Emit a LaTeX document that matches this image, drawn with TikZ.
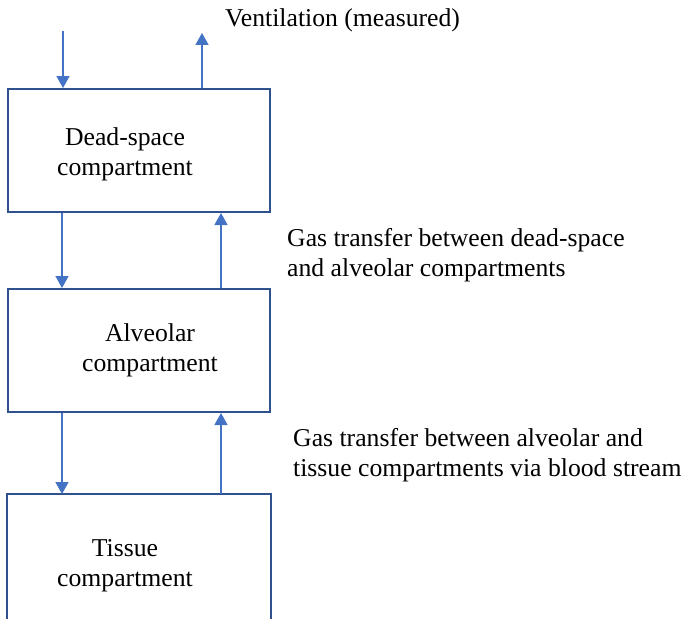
\documentclass[tikz,border=0pt]{standalone}
\usepackage{fontspec}
\setmainfont{Liberation Serif}
\usetikzlibrary{arrows.meta,positioning}
\definecolor{BoxEdge}{HTML}{2F528F}
\definecolor{FlowBlue}{HTML}{4472C4}

\begin{document}
\begin{tikzpicture}[
  x=1pt,y=-1pt,
  box/.style={draw=BoxEdge,line width=2pt,minimum width=262pt,minimum height=123pt,inner sep=0pt},
  boxline/.style={draw=BoxEdge,line width=2pt},
  txt/.style={font=\fontsize{25.7}{30}\selectfont,align=center,inner sep=0pt},
  note/.style={font=\fontsize{25.7}{30}\selectfont,align=left,anchor=west,inner sep=0pt},
  flow/.style={-{Triangle[length=12pt,width=13pt]},line width=1.6pt,draw=FlowBlue}
]
\useasboundingbox (0,0) rectangle (684,618);
% compartments
\node[box] (dead) at (139,150.5) {};
\node[box] (alv) at (139,350.5) {};
\node[box,draw=none] (tissue) at (139,556.5) {};
\draw[boxline] (tissue.south west) -- (tissue.north west) -- (tissue.north east) -- (tissue.south east);
\node[txt] (deadtext) at ([xshift=-14pt,yshift=-3.5pt]dead.center) {Dead-space\\compartment};
\node[txt] (alvtext) at ([xshift=11pt]alv.center) {Alveolar\\compartment};
\node[txt] (tissuetext) at ([xshift=-14pt,yshift=-9.5pt]tissue.center) {Tissue\\compartment};
% labels
\node[note] (vent) at (225,20.5) {Ventilation (measured)};
\node[note] (gas1) at (287,255.5) {Gas transfer between dead-space\\and alveolar compartments};
\node[note] (gas2) at (293,455) {Gas transfer between alveolar and\\tissue compartments via blood stream};
% flows
\coordinate (inlet) at (63,31);
\coordinate (outlet) at (202,33);
\draw[flow] (inlet) -- (inlet |- dead.north);
\draw[flow] (outlet |- dead.north) -- (outlet);
\draw[flow] ([xshift=55pt]dead.south west) -- ([xshift=55pt]alv.north west);
\draw[flow] ([xshift=214pt]alv.north west) -- ([xshift=214pt]dead.south west);
\draw[flow] ([xshift=55pt]alv.south west) -- ([xshift=55pt]tissue.north west);
\draw[flow] ([xshift=214pt]tissue.north west) -- ([xshift=214pt]alv.south west);
\end{tikzpicture}
\end{document}
